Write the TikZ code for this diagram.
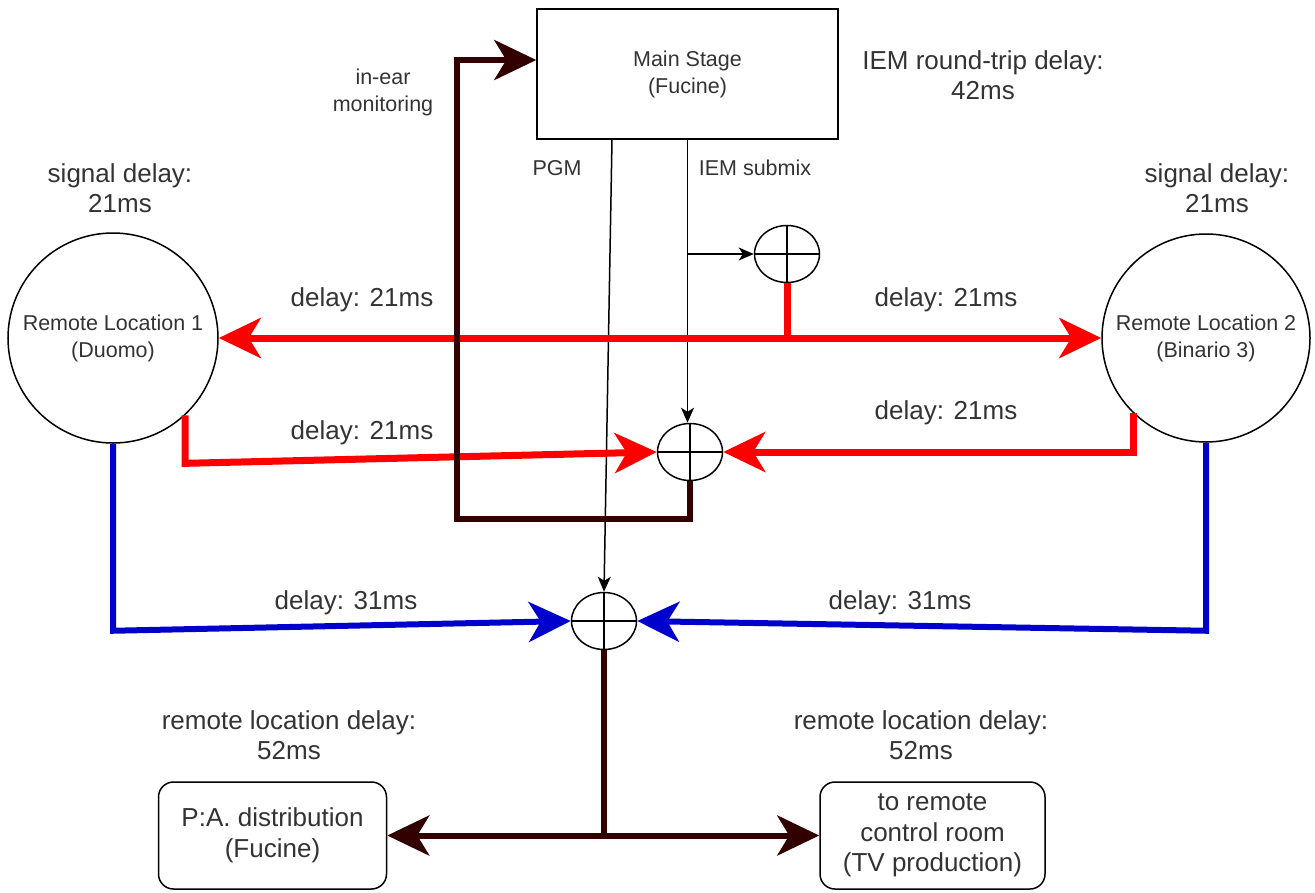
\documentclass[tikz,border=0pt]{standalone}
\usepackage{fontspec}
\setmainfont{Liberation Sans}
\usetikzlibrary{arrows.meta,shapes.geometric,calc}
\definecolor{txtc}{HTML}{333333}
\definecolor{redc}{HTML}{FF0000}
\definecolor{bluec}{HTML}{0000CC}
\definecolor{brownc}{HTML}{330000}
\begin{document}
\begin{tikzpicture}[x=1pt,y=-1pt,
  small/.style={text=txtc,font=\fontsize{21.5}{27}\selectfont,align=center,inner sep=0pt},
  large/.style={text=txtc,font=\fontsize{26}{30.5}\selectfont,align=center,inner sep=0pt},
  boxline/.style={draw=black,line width=1.5pt},
  sumnode/.style={ellipse,boxline,minimum width=65pt,minimum height=57pt,inner sep=0pt},
  bigarrow/.style={-{Stealth[length=42pt,width=40pt,inset=12pt]}},
  smallarrow/.style={-{Stealth[length=15pt,width=13pt,inset=4pt]}},
  redl/.style={draw=redc,line width=7pt},
  bluel/.style={draw=bluec,line width=6pt},
  brownl/.style={draw=brownc,line width=6pt},
  thinl/.style={draw=black,line width=1.5pt}]
\useasboundingbox (0,0) rectangle (1315,892);

% main nodes
\node[boxline,rectangle,minimum width=301pt,minimum height=130pt,small] (main) at (687.5,74) {Main Stage\\(Fucine)};
\node[boxline,circle,minimum size=210pt,small] (loc1) at (113,338) {Remote Location 1\\(Duomo)};
\node[boxline,circle,minimum size=208pt,small] (loc2) at (1206,338) {Remote Location 2\\(Binario 3)};
\node[sumnode] (sumT) at (787,254) {};
\node[sumnode] (sumM) at (690,452) {};
\node[sumnode] (sumB) at (604,621) {};
\foreach \s in {sumT,sumM,sumB}
  \draw[thinl] (\s.north) -- (\s.south) (\s.west) -- (\s.east);
\node[boxline,rectangle,rounded corners=15pt,minimum width=228pt,minimum height=107pt,large] (pa) at (272.5,835.5) {P:A. distribution\\(Fucine)};
\node[boxline,rectangle,rounded corners=15pt,minimum width=225pt,minimum height=107pt,large] (tv) at (932.5,835.5) {to remote\\control room\\(TV production)};

% labels
\node[large] (sigL) at (120,188) {signal delay:\\21ms};
\node[large] (sigR) at (1217,188) {signal delay:\\21ms};
\node[large] (iemrt) at (983,75) {IEM round-trip delay:\\42ms};
\node[small] (inear) at (383,92) {in-ear\\monitoring};
\node[small] (pgm) at (557,168) {PGM};
\node[small] (iemsub) at (755,168) {IEM submix};
\node[large] (d1) at (362,300) {delay: 21ms};
\node[large] (d2) at (946,300) {delay: 21ms};
\node[large] (d3) at (362,433) {delay: 21ms};
\node[large] (d4) at (946,413) {delay: 21ms};
\node[large] (d5) at (346,603) {delay: 31ms};
\node[large] (d6) at (900,603) {delay: 31ms};
\node[large] (rlL) at (289,735) {remote location delay:\\52ms};
\node[large] (rlR) at (921,735) {remote location delay:\\52ms};

% thin signal lines
\draw[thinl,smallarrow] ([xshift=-75.5pt]main.south) -- (sumB.north);
\draw[thinl,smallarrow] (main.south) -- (main.south |- sumM.north);
\coordinate (br) at (main.south |- sumT.west);
\draw[thinl,smallarrow] (br) -- (sumT.west);

% red lines
\coordinate (j1) at (sumT.south |- loc1.east);
\draw[redl] (sumT.south) -- (j1);
\draw[redl,bigarrow] (j1) -- (loc1.east);
\draw[redl,bigarrow] (j1) -- (loc2.west);
\draw[redl,bigarrow] (loc1.-47) -- ++(0,48) -- (sumM.west);
\draw[redl,bigarrow] (loc2.226) |- (sumM.east);

% brown IEM return
\draw[brownl,bigarrow] (sumM.south) -- ++(0,38) -| (457,60) -- ([yshift=14pt]main.west);

% blue lines
\draw[bluel,bigarrow] (loc1.south) -- ++(0,187) -- (sumB.west);
\draw[bluel,bigarrow] (loc2.south) -- ++(0,188) -- (sumB.east);

% brown output
\coordinate (j2) at (sumB.south |- pa.east);
\draw[brownl] (sumB.south) -- (j2);
\draw[brownl,bigarrow] (j2) -- (pa.east);
\draw[brownl,bigarrow] (j2) -- (tv.west);
\end{tikzpicture}
\end{document}
